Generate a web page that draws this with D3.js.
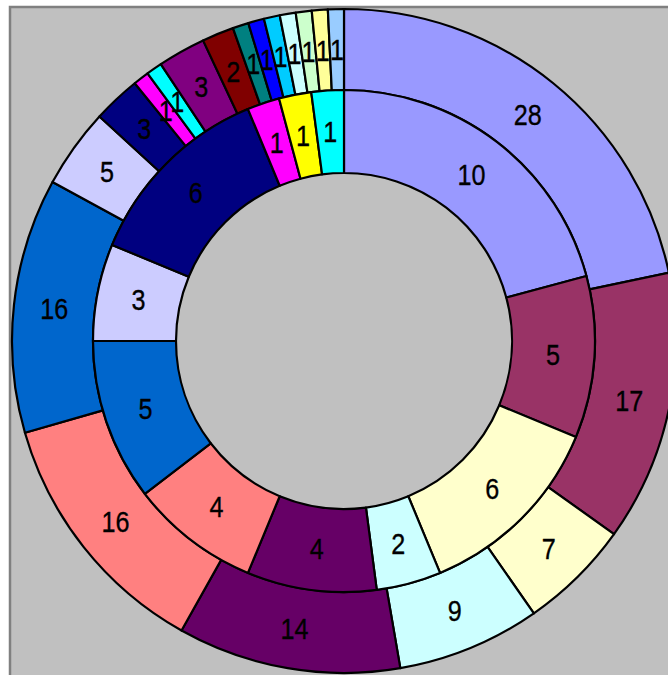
<!DOCTYPE html>
<html>
<head>
<meta charset="utf-8">
<script src="https://cdn.jsdelivr.net/npm/d3@7"></script>
<style>
  html, body { margin: 0; padding: 0; background: #ffffff; }
  svg { display: block; }
  .lbl { font-family: "Liberation Sans", Arial, sans-serif; font-size: 30px; fill: #000; stroke: #000; stroke-width: 0.35px; }
</style>
</head>
<body>
<div id="chart"></div>
<script>
// Outer ring (drawn clockwise from 12 o'clock)
const outerValues = [28, 17, 7, 9, 14, 16, 16, 5, 3, 1, 1, 3, 2, 1, 1, 1, 1, 1, 1, 1];
const outerColors = ["#9999ff", "#993366", "#ffffcc", "#ccffff", "#660066", "#ff8080",
                     "#0066cc", "#ccccff", "#000080", "#ff00ff", "#00ffff", "#800080",
                     "#800000", "#008080", "#0000ff", "#00ccff", "#ccffff", "#ccffcc",
                     "#ffff99", "#99ccff"];

// Inner ring
const innerValues = [10, 5, 6, 2, 4, 4, 5, 3, 6, 1, 1, 1];
const innerColors = ["#9999ff", "#993366", "#ffffcc", "#ccffff", "#660066", "#ff8080",
                     "#0066cc", "#ccccff", "#000080", "#ff00ff", "#ffff00", "#00ffff"];

const width = 668, height = 675;
const cx = 344, cy = 341;
const rHole = 168, rMid = 251, rOuter = 332;

const svg = d3.select("#chart").append("svg")
  .attr("width", width).attr("height", height);

// Chart area frame
svg.append("rect")
  .attr("x", 10).attr("y", 7)
  .attr("width", width + 20).attr("height", height + 20)
  .attr("fill", "#c0c0c0")
  .attr("stroke", "#808080")
  .attr("stroke-width", 2.5);

const g = svg.append("g").attr("transform", `translate(${cx},${cy})`);

const pie = d3.pie().sort(null).value(d => d);

function ring(values, colors, r0, r1, cls) {
  const arc = d3.arc().innerRadius(r0).outerRadius(r1);
  const arcs = pie(values);
  const grp = g.append("g").attr("class", cls);
  grp.selectAll("path")
    .data(arcs)
    .join("path")
    .attr("d", arc)
    .attr("fill", (d, i) => colors[i])
    .attr("stroke", "#000")
    .attr("stroke-width", 2.2)
    .attr("stroke-linejoin", "round");
  // narrow value labels at each segment's centroid
  grp.selectAll("text")
    .data(arcs)
    .join("text")
    .attr("class", "lbl")
    .attr("transform", d => `translate(${arc.centroid(d)}) scale(0.84,1)`)
    .attr("text-anchor", "middle")
    .attr("dominant-baseline", "central")
    .text(d => d.data);
}

ring(outerValues, outerColors, rMid, rOuter, "outer");
ring(innerValues, innerColors, rHole, rMid, "inner");
</script>
</body>
</html>
